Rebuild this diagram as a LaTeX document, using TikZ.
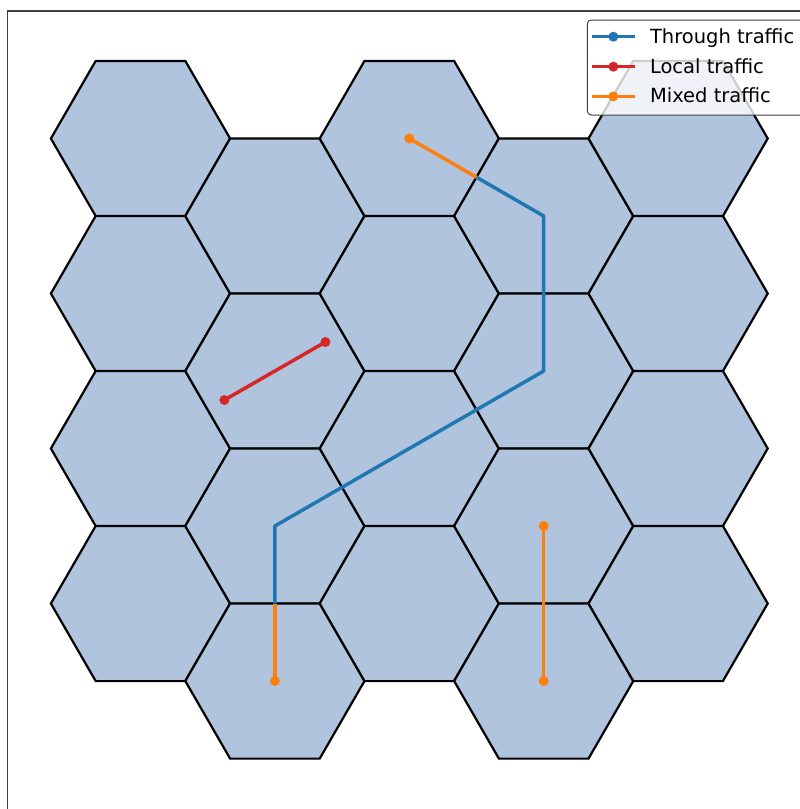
\documentclass[tikz,border=0pt]{standalone}
\usepackage{fontspec}
\setmainfont{DejaVu Sans}
\usetikzlibrary{shapes.geometric,calc}
\definecolor{hexfill}{HTML}{B0C4DE}
\definecolor{tblue}{HTML}{1F77B4}
\definecolor{tred}{HTML}{D62728}
\definecolor{torange}{HTML}{FF7F0E}
\begin{document}
\begin{tikzpicture}[x=1pt,y=-1pt,
  hexcell/.style={regular polygon, regular polygon sides=6, minimum size=179.2pt,
    inner sep=0pt, outer sep=0pt, draw=black, line width=2.2pt, fill=hexfill, line join=miter},
  traffic/.style={line width=3.5pt, line join=round},
  dot/.style={circle, fill, inner sep=0pt, outer sep=0pt, minimum size=10pt},
  frameline/.style={draw=black!75, line width=1.1pt},
  legendbox/.style={draw=black!75, line width=1pt, rounded corners=4pt, fill=white,
    fill opacity=0.8, inner sep=0pt, outer sep=0pt},
  legendtext/.style={anchor=base west, inner sep=0pt, outer sep=0pt,
    font=\fontsize{19.5pt}{23pt}\selectfont, text=black}]
\useasboundingbox (0,0) rectangle (800,809);
\clip (0,0) rectangle (800,809);
% axes frame (left and top spines visible)
\draw[frameline] (7.7,830) -- (7.7,11) -- (830,11);
% hex grid
\foreach \i in {0,...,4}{
  \foreach \j in {0,...,3}{
    \pgfmathsetmacro\cx{140.5+134.4*\i}
    \pgfmathsetmacro\cy{138.5+155*\j+77.5*mod(\i,2)}
    \node[hexcell] (h-\i-\j) at (\cx,\cy) {};
  }
}
% edge midpoints
\coordinate (m1) at ($(h-1-2.center)!0.5!(h-1-3.center)$);
\coordinate (m2) at ($(h-3-0.center)!0.5!(h-2-0.center)$);
% through traffic
\draw[traffic, tblue] (m1) -- (h-1-2.center) -- (h-3-1.center) -- (h-3-0.center) -- (m2);
% local traffic
\coordinate (r1) at ($(h-1-1.center)+(-50.5,29)$);
\coordinate (r2) at ($(h-1-1.center)+(50.5,-29)$);
\draw[traffic, tred] (r1) -- (r2);
\node[dot, tred] (dr1) at (r1) {};
\node[dot, tred] (dr2) at (r2) {};
% mixed traffic
\draw[traffic, torange] (h-1-3.center) -- (m1);
\node[dot, torange] (do1) at (h-1-3.center) {};
\draw[traffic, torange] (h-2-0.center) -- (m2);
\node[dot, torange] (do2) at (h-2-0.center) {};
\draw[traffic, torange] (h-3-2.center) -- (h-3-3.center);
\node[dot, torange] (do3) at (h-3-2.center) {};
\node[dot, torange] (do4) at (h-3-3.center) {};
% legend
\node[legendbox, anchor=north west, minimum width=240pt, minimum height=95pt] (legend) at (587.3,20) {};
\coordinate (la1) at (591.7,36.7); \coordinate (lb1) at (635,36.7);
\coordinate (la2) at (591.7,66.7); \coordinate (lb2) at (635,66.7);
\coordinate (la3) at (591.7,96.4); \coordinate (lb3) at (635,96.4);
\draw[traffic, tblue] (la1) -- (lb1);
\node[dot, tblue] (lm1) at ($(la1)!0.5!(lb1)$) {};
\draw[traffic, tred] (la2) -- (lb2);
\node[dot, tred] (lm2) at ($(la2)!0.5!(lb2)$) {};
\draw[traffic, torange] (la3) -- (lb3);
\node[dot, torange] (lm3) at ($(la3)!0.5!(lb3)$) {};
\node[legendtext] (lt1) at (650,43.2) {Through traffic};
\node[legendtext] (lt2) at (650,73.0) {Local traffic};
\node[legendtext] (lt3) at (650,102.6) {Mixed traffic};
\end{tikzpicture}
\end{document}
